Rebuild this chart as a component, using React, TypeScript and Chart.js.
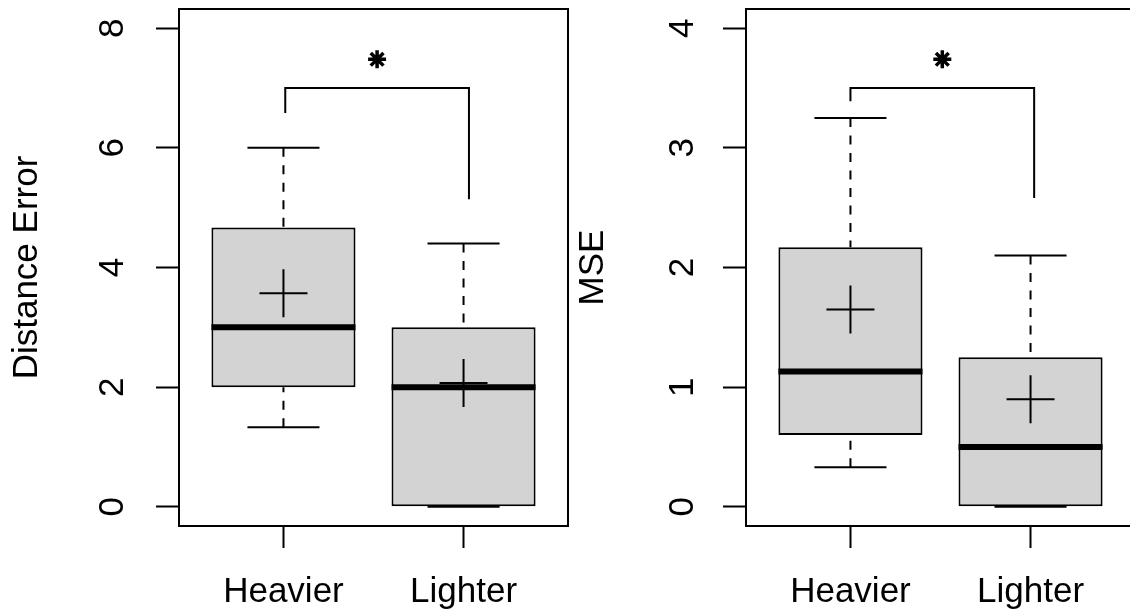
import React, { useEffect, useRef } from "react";
import { Chart, registerables } from "chart.js";

Chart.register(...registerables);

// ---------- data ----------
const GROUPS = ["Heavier", "Lighter"];
const GROUP_X = [1, 2];

// Panel 1: Distance Error
const DE_MIN = [1.33, 0];
const DE_Q1 = [2.0, 0];
const DE_MEDIAN = [3.0, 2.0];
const DE_Q3 = [4.67, 3.0];
const DE_MAX = [6.0, 4.4];
const DE_MEAN = [3.57, 2.07];
const DE_TICKS = [0, 2, 4, 6, 8];
const DE_BRACKET_X = [1.01, 1.01, 2.03, 2.03];
const DE_BRACKET_Y = [6.58, 7.0, 7.0, 5.14];
const DE_STAR = [1.52, 7.48];

// Panel 2: MSE
const MSE_MIN = [0.33, 0];
const MSE_Q1 = [0.6, 0];
const MSE_MEDIAN = [1.13, 0.5];
const MSE_Q3 = [2.17, 1.25];
const MSE_MAX = [3.25, 2.1];
const MSE_MEAN = [1.65, 0.9];
const MSE_TICKS = [0, 1, 2, 3, 4];
const MSE_BRACKET_X = [1.0, 1.0, 2.02, 2.02];
const MSE_BRACKET_Y = [3.39, 3.5, 3.5, 2.58];
const MSE_STAR = [1.51, 3.74];

// ---------- styling ----------
const FONT = "'Liberation Sans', Arial, Helvetica, sans-serif";
const FS = 35;
const BOX_FILL = "#D3D3D3";
const BLACK = "#000000";

type PanelSpec = {
  title: string;
  min: number[];
  q1: number[];
  median: number[];
  q3: number[];
  max: number[];
  mean: number[];
  ticks: number[];
  bracketX: number[];
  bracketY: number[];
  star: number[];
  yAxisWidth: number;
  tickPad: number;
  titlePad: number;
  padRight: number;
};

const framePlugin = {
  id: "frame",
  afterDatasetsDraw(chart: any) {
    const { ctx, chartArea: a } = chart;
    ctx.save();
    ctx.strokeStyle = BLACK;
    ctx.lineWidth = 2;
    ctx.strokeRect(a.left, a.top, a.right - a.left, a.bottom - a.top);
    ctx.restore();
  },
};

function zeroPad(s: any) {
  s.paddingLeft = 0;
  s.paddingRight = 0;
  s.paddingTop = 0;
  s.paddingBottom = 0;
}

function seg(points: { x: number; y: number }[], width: number, dash: number[] = []) {
  return {
    type: "line",
    data: points,
    borderColor: BLACK,
    borderWidth: width,
    borderDash: dash,
    borderCapStyle: "butt",
    pointRadius: 0,
    pointHoverRadius: 0,
    fill: false,
    tension: 0,
    order: 1,
  };
}

function makeConfig(p: PanelSpec): any {
  const span = p.ticks[p.ticks.length - 1] - p.ticks[0];
  const yMin = p.ticks[0] - 0.04 * span;
  const yMax = p.ticks[p.ticks.length - 1] + 0.04 * span;

  const datasets: any[] = [];
  datasets.push({
    type: "bar",
    data: GROUP_X.map((x, i) => ({ x, y: [p.q1[i], p.q3[i]] })),
    backgroundColor: BOX_FILL,
    borderColor: BLACK,
    borderWidth: 2,
    borderSkipped: false,
    barPercentage: 0.8,
    categoryPercentage: 1,
    order: 10,
  });
  GROUP_X.forEach((x, i) => {
    datasets.push(seg([{ x, y: p.max[i] }, { x, y: p.q3[i] }], 2, [9, 8.5]));
    datasets.push(seg([{ x, y: p.min[i] }, { x, y: p.q1[i] }], 2, [9, 8.5]));
    datasets.push(seg([{ x: x - 0.2, y: p.max[i] }, { x: x + 0.2, y: p.max[i] }], 2));
    datasets.push(seg([{ x: x - 0.2, y: p.min[i] }, { x: x + 0.2, y: p.min[i] }], 2));
    datasets.push(seg([{ x: x - 0.4, y: p.median[i] }, { x: x + 0.4, y: p.median[i] }], 6));
  });
  // means
  datasets.push({
    type: "line",
    data: GROUP_X.map((x, i) => ({ x, y: p.mean[i] })),
    showLine: false,
    pointStyle: "cross",
    pointRadius: 24,
    pointHoverRadius: 24,
    pointBorderColor: BLACK,
    pointBorderWidth: 2,
    pointBackgroundColor: BLACK,
    order: 0,
  });
  // bracket
  datasets.push(
    seg(
      p.bracketX.map((x, i) => ({ x, y: p.bracketY[i] })),
      2
    )
  );
  // significance star
  datasets.push({
    type: "line",
    data: [{ x: p.star[0], y: p.star[1] }],
    showLine: false,
    pointStyle: "star",
    pointRadius: 9,
    pointHoverRadius: 9,
    pointBorderColor: BLACK,
    pointBorderWidth: 3.5,
    order: 0,
  });

  return {
    type: "bar",
    data: { datasets },
    plugins: [framePlugin],
    options: {
      animation: false,
      responsive: false,
      devicePixelRatio: 1,
      events: [],
      layout: {
        autoPadding: false,
        padding: { top: 9, left: 0, right: p.padRight, bottom: 0 },
      },
      plugins: { legend: { display: false }, tooltip: { enabled: false } },
      scales: {
        x: {
          type: "linear",
          min: 0.42,
          max: 2.58,
          offset: false,
          afterBuildTicks: (s: any) => {
            s.ticks = GROUP_X.map((v) => ({ value: v }));
          },
          afterFit: (s: any) => {
            s.height = 85;
            zeroPad(s);
          },
          grid: {
            display: true,
            offset: false,
            drawOnChartArea: false,
            drawTicks: true,
            tickLength: 22,
            tickColor: BLACK,
            tickWidth: 2,
          },
          border: { display: false },
          ticks: {
            autoSkip: false,
            maxRotation: 0,
            minRotation: 0,
            padding: 23,
            color: BLACK,
            font: { family: FONT, size: FS },
            callback: (_v: any, idx: number) => GROUPS[idx],
          },
        },
        y: {
          type: "linear",
          min: yMin,
          max: yMax,
          afterBuildTicks: (s: any) => {
            s.ticks = p.ticks.map((v) => ({ value: v }));
          },
          afterFit: (s: any) => {
            s.width = p.yAxisWidth;
            zeroPad(s);
          },
          grid: {
            display: true,
            drawOnChartArea: false,
            drawTicks: true,
            tickLength: 23,
            tickColor: BLACK,
            tickWidth: 2,
          },
          border: { display: false },
          ticks: {
            autoSkip: false,
            minRotation: 90,
            maxRotation: 90,
            crossAlign: "center",
            padding: p.tickPad,
            color: BLACK,
            font: { family: FONT, size: FS },
            callback: (v: any) => String(v),
          },
          title: {
            display: true,
            text: p.title,
            color: BLACK,
            font: { family: FONT, size: FS },
            padding: { top: p.titlePad, bottom: 0 },
          },
        },
      },
    },
  };
}

const LEFT_SPEC: PanelSpec = {
  title: "Distance Error",
  min: DE_MIN,
  q1: DE_Q1,
  median: DE_MEDIAN,
  q3: DE_Q3,
  max: DE_MAX,
  mean: DE_MEAN,
  ticks: DE_TICKS,
  bracketX: DE_BRACKET_X,
  bracketY: DE_BRACKET_Y,
  star: DE_STAR,
  yAxisWidth: 179,
  tickPad: 33,
  titlePad: 6,
  padRight: 4,
};

const RIGHT_SPEC: PanelSpec = {
  title: "MSE",
  min: MSE_MIN,
  q1: MSE_Q1,
  median: MSE_MEDIAN,
  q3: MSE_Q3,
  max: MSE_MAX,
  mean: MSE_MEAN,
  ticks: MSE_TICKS,
  bracketX: MSE_BRACKET_X,
  bracketY: MSE_BRACKET_Y,
  star: MSE_STAR,
  yAxisWidth: 174,
  tickPad: 30,
  titlePad: 0,
  padRight: 5,
};

function Panel({ spec, left, width }: { spec: PanelSpec; left: number; width: number }) {
  const ref = useRef<HTMLCanvasElement>(null);
  useEffect(() => {
    const chart = new Chart(ref.current as HTMLCanvasElement, makeConfig(spec));
    return () => chart.destroy();
  }, [spec]);
  return (
    <canvas
      ref={ref}
      width={width}
      height={611}
      style={{ position: "absolute", left, top: 0, width, height: 611, display: "block" }}
    />
  );
}

export default function App() {
  return (
    <div
      style={{
        position: "fixed",
        left: 0,
        top: 0,
        width: 1130,
        height: 611,
        overflow: "hidden",
        background: "#ffffff",
      }}
    >
      <Panel spec={LEFT_SPEC} left={0} width={572} />
      <Panel spec={RIGHT_SPEC} left={572} width={568} />
    </div>
  );
}
